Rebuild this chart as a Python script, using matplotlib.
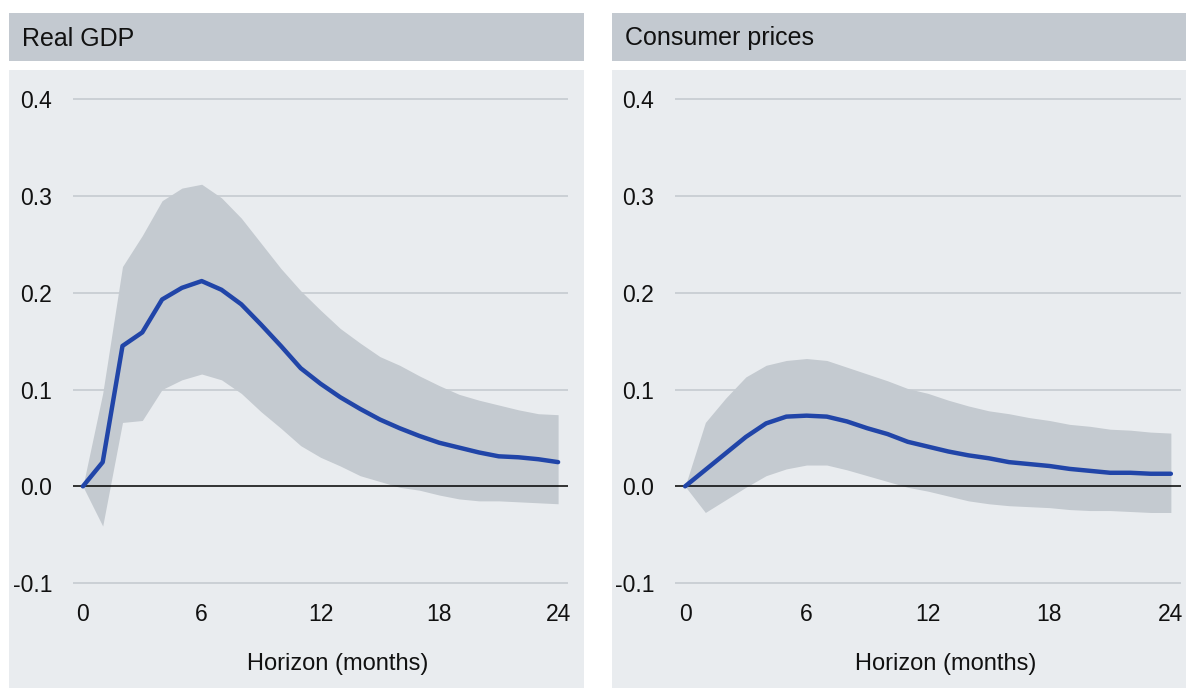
import matplotlib
matplotlib.use("Agg")
import matplotlib.pyplot as plt
from matplotlib.patches import Rectangle

plt.rcParams['font.family'] = ['Liberation Sans', 'DejaVu Sans']

months = list(range(25))

gdp_mid = [0.0, 0.025, 0.145, 0.159, 0.193, 0.205, 0.212, 0.203, 0.188, 0.167, 0.145,
           0.122, 0.106, 0.092, 0.080, 0.069, 0.060, 0.052, 0.045, 0.040, 0.035,
           0.031, 0.030, 0.028, 0.025]
gdp_up = [0.0, 0.096, 0.227, 0.259, 0.295, 0.308, 0.312, 0.298, 0.277, 0.251, 0.225,
          0.202, 0.182, 0.163, 0.148, 0.134, 0.125, 0.114, 0.104, 0.095, 0.089,
          0.084, 0.079, 0.075, 0.074]
gdp_lo = [0.0, -0.041, 0.066, 0.068, 0.100, 0.110, 0.116, 0.110, 0.096, 0.077, 0.060,
          0.042, 0.030, 0.021, 0.011, 0.005, -0.001, -0.004, -0.009, -0.013, -0.015,
          -0.015, -0.016, -0.017, -0.018]

cpi_mid = [0.0, 0.017, 0.034, 0.051, 0.065, 0.072, 0.073, 0.072, 0.067, 0.060, 0.054,
           0.046, 0.041, 0.036, 0.032, 0.029, 0.025, 0.023, 0.021, 0.018, 0.016,
           0.014, 0.014, 0.013, 0.013]
cpi_up = [0.0, 0.066, 0.091, 0.113, 0.125, 0.130, 0.132, 0.130, 0.123, 0.116, 0.109,
          0.101, 0.096, 0.089, 0.083, 0.078, 0.075, 0.071, 0.068, 0.064, 0.062,
          0.059, 0.058, 0.056, 0.055]
cpi_lo = [0.0, -0.027, -0.014, -0.001, 0.011, 0.018, 0.022, 0.022, 0.017, 0.011, 0.005,
          -0.001, -0.005, -0.010, -0.015, -0.018, -0.020, -0.021, -0.022, -0.024, -0.025,
          -0.025, -0.026, -0.027, -0.027]

titles = ["Real GDP", "Consumer prices"]
xticks = [0, 6, 12, 18, 24]
yticks = [-0.1, 0.0, 0.1, 0.2, 0.3, 0.4]
ytick_labels = ["-0.1", "0.0", "0.1", "0.2", "0.3", "0.4"]
xlabel = "Horizon (months)"

W, H = 1186, 688
fig = plt.figure(figsize=(W / 100, H / 100), dpi=100)
fig.patch.set_facecolor("white")

band_col = "#c3c9d0"
panel_col = "#e9ecef"
fill_col = "#c4cad0"
line_col = "#2145a8"
grid_col = "#c8cdd3"

panels = [
    dict(px0=9, px1=584, ax0=73, ax1=568, mid=gdp_mid, up=gdp_up, lo=gdp_lo),
    dict(px0=612, px1=1186, ax0=675, ax1=1181, mid=cpi_mid, up=cpi_up, lo=cpi_lo),
]

ytop_px, ybot_px = 94.2, 588.0
for p, title in zip(panels, titles):
    # title band
    fig.patches.append(Rectangle((p['px0'] / W, 1 - 61 / H), (p['px1'] - p['px0']) / W, 48 / H,
                                 transform=fig.transFigure, facecolor=band_col, edgecolor='none', zorder=-2))
    # panel background
    fig.patches.append(Rectangle((p['px0'] / W, 0), (p['px1'] - p['px0']) / W, 1 - 70 / H,
                                 transform=fig.transFigure, facecolor=panel_col, edgecolor='none', zorder=-2))
    fig.text((p['px0'] + 13) / W, 1 - 38.5 / H, title, fontsize=18, va='center', ha='left', color='#111111')

    ax = fig.add_axes([p['ax0'] / W, 1 - ybot_px / H, (p['ax1'] - p['ax0']) / W, (ybot_px - ytop_px) / H])
    ax.set_facecolor('none')
    ax.fill_between(months, p['lo'], p['up'], color=fill_col, linewidth=0, zorder=1)
    for yv in yticks:
        if yv != 0.0:
            ax.axhline(yv, color=grid_col, linewidth=1.3, zorder=0.5)
    ax.axhline(0.0, color='black', linewidth=1.1, zorder=2)
    ax.plot(months, p['mid'], color=line_col, linewidth=3.2, zorder=3, solid_capstyle='round')
    ax.set_xlim(-0.5, 24.5)
    ax.set_ylim(-0.105, 0.405)
    ax.set_xticks(xticks)
    ax.set_xticklabels([str(t) for t in xticks])
    ax.set_yticks(yticks)
    ax.set_yticklabels(ytick_labels)
    ax.tick_params(axis='both', length=0, labelsize=16.5, colors='#111111')
    ax.tick_params(axis='y', pad=15)
    ax.tick_params(axis='x', pad=11)
    for s in ax.spines.values():
        s.set_visible(False)
    ax.set_xlabel(xlabel, fontsize=17, color='#111111')
    ax.xaxis.set_label_coords(0.535, -0.132)

fig.savefig("out.png", dpi=100, facecolor="white")
